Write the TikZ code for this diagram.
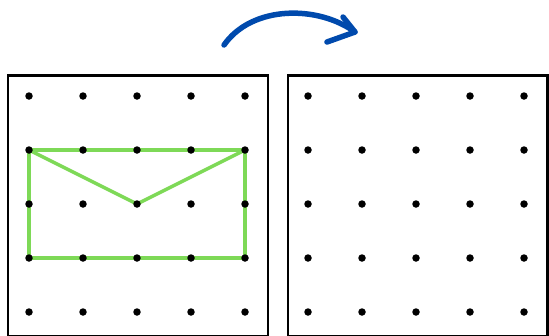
\documentclass[tikz,border=0pt]{standalone}
\definecolor{gridgreen}{HTML}{7ED957}
\definecolor{arrowblue}{HTML}{004AAD}
\tikzset{
  board/.style={draw=black, line width=2.4pt},
  peg/.style={circle, fill=black, inner sep=0pt, minimum size=7.5pt},
  band/.style={draw=gridgreen, line width=3.5pt, line join=round},
  flip/.style={draw=arrowblue, line width=5.5pt, line cap=round, line join=round}
}
\begin{document}
\begin{tikzpicture}[x=1pt,y=-1pt]
\useasboundingbox (0,0) rectangle (549,335);
\begin{scope}
\clip (0,0) rectangle (549,335);
\draw[board] (8,75.5) rectangle (268,335.8);
\draw[board] (288,75.5) rectangle (547.5,335.8);
\end{scope}
% green figure
\coordinate (A) at (29,150);
\coordinate (B) at (245,150);
\coordinate (C) at (245,258);
\coordinate (D) at (29,258);
\coordinate (M) at (137,204);
\draw[band] (A) -- (B) -- (C) -- (D) -- cycle;
\draw[band] (A) -- (M) -- (B);
% pegs
\foreach \i in {0,...,4}{
  \foreach \j in {0,...,4}{
    \node[peg] (L\i\j) at ({29+54*\i},{96+54*\j}) {};
    \node[peg] (R\i\j) at ({308+54*\i},{96+54*\j}) {};
  }
}
% arrow
\coordinate (s) at (224,45);
\coordinate (t) at (355,32);
\coordinate (h1) at (343,17);
\coordinate (h2) at (327,42);
\draw[flip] (s) .. controls (252,5) and (318,5) .. (t);
\draw[flip] (h1) -- (t) -- (h2);
\end{tikzpicture}
\end{document}
